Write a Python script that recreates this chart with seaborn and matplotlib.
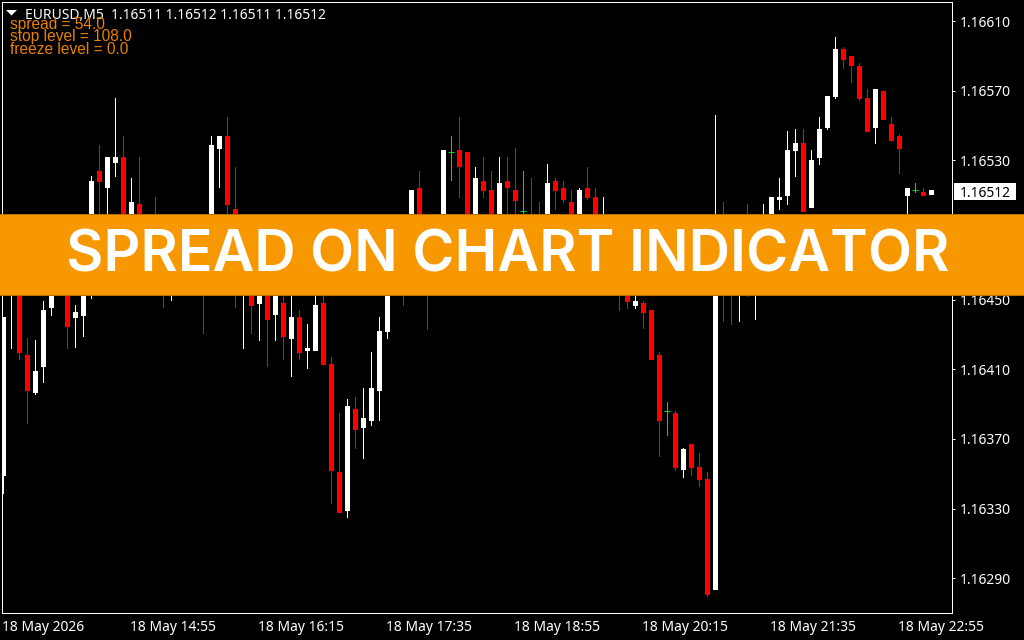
import pandas as pd
import seaborn as sns
import matplotlib
matplotlib.use("Agg")
import matplotlib.pyplot as plt
from matplotlib.patches import Rectangle, Polygon
from matplotlib.transforms import blended_transform_factory, ScaledTranslation

# EURUSD M5 candles, prices in points (1e-5). Candles behind the banner are estimates.
opens = [116349,116462,116479,116418,116397,116412,116446,116470,116485,116440,116441,116467,116524,116515,116529,116532,
         116479,116505,116487,116490,116482,116467,116480,116470,116475,116485,116485,116537,116544,116502,116464,116473,
         116448,116479,116442,116448,116428,116440,116421,116421,116448,116413,116351,116329,116387,116377,116381,116398,
         116432,116470,116473,116462,116514,116485,116475,116479,116535,116536,116535,116485,116518,116513,116493,116518,
         116513,116501,116490,116487,116487,116518,116514,116506,116490,116514,116509,116482,116480,116473,116467,116447,
         116448,116444,116418,116386,116385,116353,116367,116354,116347,116284,116485,116485,116467,116485,116470,116473,
         116490,116508,116510,116536,116540,116503,116532,116549,116567,116594,116590,116584,116566,116549,116570,116551,
         116544,116510,116513,116512,116511]
highs = [116440,116485,116485,116428,116427,116449,116473,116476,116493,116447,116487,116521,116539,116532,116566,116544,
         116520,116532,116490,116509,116493,116485,116485,116488,116495,116488,116544,116544,116555,116526,116493,116485,
         116487,116487,116482,116467,116462,116444,116436,116462,116467,116417,116385,116393,116394,116399,116420,116440,
         116476,116474,116479,116513,116524,116487,116498,116536,116544,116555,116535,116526,116532,116524,116532,116532,
         116537,116524,116520,116506,116528,116520,116518,116513,116514,116526,116514,116509,116485,116482,116473,116459,
         116449,116444,116420,116391,116386,116365,116367,116362,116351,116556,116506,116493,116487,116505,116487,116505,
         116509,116520,116547,116548,116548,116536,116555,116567,116601,116595,116590,116586,116571,116571,116570,116555,
         116545,116514,116517,116514,116513]
lows = [116339,116422,116416,116379,116396,116403,116441,116459,116422,116423,116429,116451,116485,116479,116521,116479,
        116473,116473,116470,116467,116446,116450,116465,116466,116470,116431,116473,116515,116490,116446,116422,116431,
        116427,116412,116427,116416,116406,116416,116411,116421,116413,116333,116328,116325,116365,116359,116378,116381,
        116428,116458,116447,116459,116485,116433,116470,116473,116519,116509,116479,116479,116509,116496,116493,116500,
        116500,116485,116473,116470,116482,116502,116506,116496,116485,116508,116479,116476,116465,116444,116445,116445,
        116434,116416,116360,116372,116352,116348,116349,116343,116280,116284,116438,116436,116438,116452,116439,116467,
        116485,116502,116505,116521,116501,116503,116528,116548,116566,116583,116575,116565,116547,116540,116554,116542,
        116523,116493,116512,116510,116511]
closes = [116440,116479,116420,116398,116409,116444,116467,116464,116435,116443,116479,116518,116518,116532,116532,116485,
          116506,116482,116476,116479,116473,116476,116473,116480,116490,116476,116539,116544,116505,116467,116487,116447,
          116482,116439,116476,116429,116440,116420,116422,116447,116413,116352,116328,116389,116376,116382,116399,116432,
          116467,116462,116464,116513,116490,116473,116495,116536,116535,116527,116485,116520,116513,116500,116517,116515,
          116507,116501,116479,116476,116517,116513,116508,116500,116513,116509,116485,116493,116470,116462,116449,116449,
          116443,116416,116381,116386,116354,116364,116354,116347,116281,116493,116473,116475,116476,116470,116482,116485,
          116509,116509,116536,116540,116501,116530,116548,116567,116594,116588,116585,116566,116547,116571,116554,116542,
          116537,116514,116513,116510,116513]

price_ticks = [1.16610,1.16570,1.16530,1.16490,1.16450,1.16410,1.16370,1.16330,1.16290]
time_tick_bars = [0,16,32,48,64,80,96,112]
time_labels = ["18 May 2026","18 May 14:55","18 May 16:15","18 May 17:35",
               "18 May 18:55","18 May 20:15","18 May 21:35","18 May 22:55"]
header = "EURUSD,M5  1.16511 1.16512 1.16511 1.16512"
info_lines = ["spread = 54.0","stop level = 108.0","freeze level = 0.0"]
last_price = 1.16512
banner = "SPREAD ON CHART INDICATOR"

BLACK, WHITE = "#000000", "#FFFFFF"
palette = {"bull": WHITE, "bear": "#FF0000", "doji": "#00E020"}
ORANGE = "#F89800"
INFO = "#E88000"

sns.set_theme(style="dark", rc={"axes.facecolor": BLACK, "figure.facecolor": BLACK,
                                "axes.edgecolor": WHITE, "axes.linewidth": 0.72,
                                "xtick.color": WHITE, "ytick.color": WHITE,
                                "axes.grid": False})
plt.rcParams["font.family"] = ["Noto Sans", "DejaVu Sans"]

df = pd.DataFrame({"bar": range(len(opens)), "o": opens, "h": highs, "l": lows, "c": closes})
for col in "ohlc":
    df[col] = df[col] / 1e5
df["kind"] = ["bull" if c > o else "bear" if c < o else "doji" for o, c in zip(df.o, df.c)]

wicks = df.melt(id_vars=["bar", "kind"], value_vars=["h", "l"], value_name="price")
bodies = df[df.kind != "doji"].melt(id_vars=["bar", "kind"], value_vars=["o", "c"], value_name="price")
dojis = df[df.kind == "doji"]

fig = plt.figure(figsize=(10.24, 6.4), dpi=100)
W, H = 1024, 640
ax = fig.add_axes([2.2 / W, 1 - 613.2 / H, 950 / W, 611 / H])

line_kw = dict(x="bar", y="price", hue="kind", units="bar", estimator=None, errorbar=None,
               palette=palette, legend=False, sort=False, ax=ax,
               antialiased=False, solid_capstyle="butt")
sns.lineplot(data=wicks, linewidth=0.72, **line_kw)
sns.lineplot(data=bodies, linewidth=3.6, **line_kw)
sns.scatterplot(data=dojis, x="bar", y="c", marker="_", s=13, linewidth=0.72,
                color=palette["doji"], legend=False, ax=ax, antialiased=False)

ax.set_xlim(-0.125, 118.625)
ax.set_ylim(1.1626989, 1.1662091)
ax.set_xlabel("")
ax.set_ylabel("")
ax.yaxis.tick_right()
ax.set_yticks(price_ticks, [f"{p:.5f}" for p in price_ticks])
ax.set_xticks(time_tick_bars, time_labels, ha="left")
ax.tick_params(axis="both", length=2.4, width=0.72, labelsize=10, colors=WHITE)
ax.tick_params(axis="y", pad=3.0)
ax.tick_params(axis="x", pad=2.5)
shift = ScaledTranslation(-1.5 / 100, 0, fig.dpi_scale_trans)
for lab in ax.get_xticklabels():
    lab.set_transform(lab.get_transform() + shift)

# top-left chart header
fig.add_artist(Polygon([[6 / W, 1 - 10 / H], [17 / W, 1 - 10 / H], [11.5 / W, 1 - 15.5 / H]],
                       closed=True, fc=WHITE, ec="none", transform=fig.transFigure, zorder=5))
fig.text(25 / W, 1 - 19 / H, header, color=WHITE, fontsize=10, va="baseline", ha="left", zorder=5)
for line, base in zip(info_lines, (29.5, 41.5, 53.5)):
    fig.text(10 / W, 1 - base / H, line, color=INFO, fontsize=11.2, family="Liberation Sans",
             va="baseline", ha="left", zorder=5)

# current price tag
fig.add_artist(Rectangle((954 / W, 1 - 200 / H), 62 / W, 17 / H, fc=WHITE, ec="none",
                         transform=fig.transFigure, zorder=5))
fig.text(959.5 / W, last_price, f"{last_price:.5f}", color=BLACK, fontsize=10, va="center_baseline", ha="left",
         transform=blended_transform_factory(fig.transFigure, ax.transData), zorder=6)

# banner
fig.add_artist(Rectangle((-0.01, 1 - 295 / H), 1.02, 81 / H, fc=ORANGE, ec="#B87200", lw=0.72,
                         transform=fig.transFigure, zorder=8))
fig.text(507.5 / W, 1 - 272 / H, banner, color=WHITE, fontsize=41.3, fontweight="semibold", family="Inter",
         va="baseline", ha="center", zorder=9)

fig.savefig("out.png", dpi=100, facecolor=BLACK)
